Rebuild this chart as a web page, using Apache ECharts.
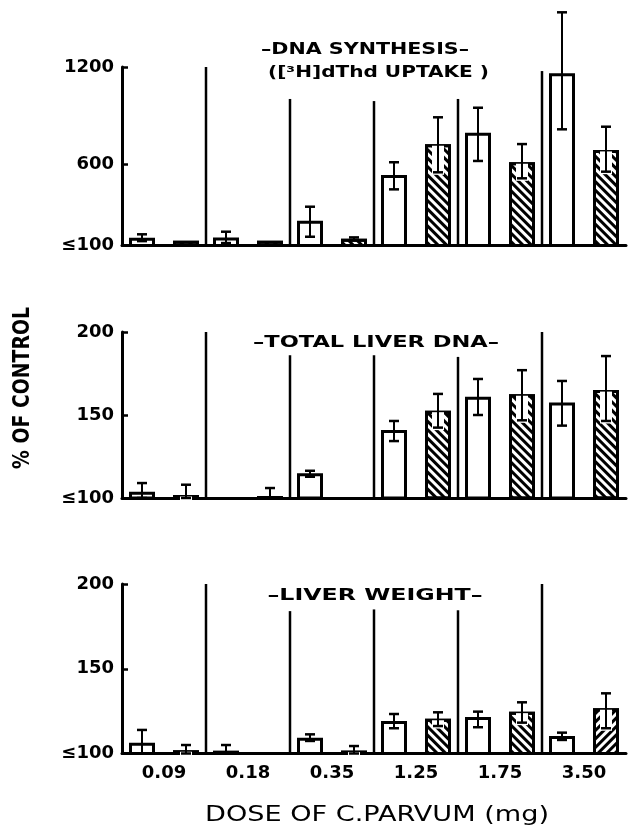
<!DOCTYPE html>
<html><head><meta charset="utf-8">
<script src="https://cdn.jsdelivr.net/npm/echarts@6/dist/echarts.min.js"></script>
<style>html,body{margin:0;padding:0;background:#fff}#c{width:631px;height:832px}</style>
</head><body><div id="c"></div>
<script>
// ---------- DATA ----------
const doses = ['0.09', '0.18', '0.35', '1.25', '1.75', '3.50'];

// DNA synthesis ([3H]dThd uptake), % of control
const synOpen      = [148, 150, 253, 534, 795, 1161];
const synOpenLow   = [127, 115, 154, 446, 621, 816];
const synOpenHigh  = [169, 185, 339, 613, 949, 1537];
const synHatch     = [130, 130, 142, 724, 613, 689];
const synHatchLow  = [null, null, 134, 551, 514, 555];
const synHatchHigh = [null, null, 150, 890, 725, 832];
const synSeparators = [1200, 1003, 990, 1003, 1175];
const synTicks = [100, 600, 1200];

// Total liver DNA, % of control
const dnaOpen      = [103.8, 100.8, 114.9, 141, 161, 157.6];
const dnaOpenLow   = [100, null, 112.8, 134.3, 150, 143.6];
const dnaOpenHigh  = [109, null, 116.4, 146.4, 171.7, 170.5];
const dnaHatch     = [101.8, 101.2, 100.8, 152.6, 162.5, 165];
const dnaHatchLow  = [100, 100, null, 142.4, 146.8, 146.4];
const dnaHatchHigh = [108, 106, null, 162.7, 177, 185.5];
const dnaSeparators = [200, 186, 186, 185, 200];
const dnaTicks = [100, 150, 200];

// Liver weight, % of control
const wOpen      = [106.4, 101.7, 109.3, 119.2, 121.5, 110.3];
const wOpenLow   = [100, 100, 107.4, 114.9, 115.5, 108];
const wOpenHigh  = [113.9, 105, 111.3, 123.3, 124.7, 112.3];
const wHatch     = [101.9, 100.8, 101.7, 120.5, 124.7, 126.7];
const wHatchLow  = [100, null, 100, 116.2, 118.2, 114.9];
const wHatchHigh = [105, null, 104.4, 124.3, 130.2, 135.5];
const wSeparators = [200, 184, 185, 184.5, 200];
const wTicks = [100, 150, 200];

// ---------- STYLE ----------
const FAMILY = '"DejaVu Sans", sans-serif';
const BAR_W = 26, BAR_GAP = 18, OFFSET = (BAR_W + BAR_GAP) / 2;
const hatchDecal = (rot) => ({symbol: 'rect', symbolSize: 1, dashArrayX: [1, 0], dashArrayY: [3, 3], rotation: rot, color: '#000'});
const HATCH_ROT = Math.PI / 4;

const panels = [
  {top: 67, height: 178.5, min: 100, max: 1200, interval: 100, ticks: synTicks,
   open: synOpen, openLow: synOpenLow, openHigh: synOpenHigh,
   hatch: synHatch, hatchLow: synHatchLow, hatchHigh: synHatchHigh, sep: synSeparators, showX: false, altHatch: []},
  {top: 332, height: 166, min: 100, max: 200, interval: 50, ticks: dnaTicks,
   open: dnaOpen, openLow: dnaOpenLow, openHigh: dnaOpenHigh,
   hatch: dnaHatch, hatchLow: dnaHatchLow, hatchHigh: dnaHatchHigh, sep: dnaSeparators, showX: false, altHatch: []},
  {top: 584, height: 169.5, min: 100, max: 200, interval: 50, ticks: wTicks,
   open: wOpen, openLow: wOpenLow, openHigh: wOpenHigh,
   hatch: wHatch, hatchLow: wHatchLow, hatchHigh: wHatchHigh, sep: wSeparators, showX: true, altHatch: [5]}
];

function errorRender(params, api) {
  const cat = api.value(0), side = api.value(1), lo = api.value(2), hi = api.value(3), val = api.value(4);
  const pHi = api.coord([cat, hi]);
  const cx = pHi[0] + side * OFFSET;
  const yHi = pHi[1];
  const yLo = api.coord([cat, lo])[1];
  const yTop = api.coord([cat, val])[1];
  const children = [];
  if (side > 0 && yLo > yTop + 2) {
    children.push({type: 'rect', shape: {x: cx - 6, y: yTop + 1.5, width: 12, height: Math.max(0, yLo - yTop + 1)},
      style: {fill: '#fff'}});
  }
  children.push({type: 'line', shape: {x1: cx, y1: yHi, x2: cx, y2: yLo}, style: {stroke: '#000', lineWidth: 2}});
  children.push({type: 'line', shape: {x1: cx - 5, y1: yHi, x2: cx + 5, y2: yHi}, style: {stroke: '#000', lineWidth: 2.5}});
  children.push({type: 'line', shape: {x1: cx - 5, y1: yLo, x2: cx + 5, y2: yLo}, style: {stroke: '#000', lineWidth: 2.5}});
  return {type: 'group', children};
}

function sepRenderFactory(ymin) {
  return function (params, api) {
    const i = api.value(0), top = api.value(1);
    const band = api.size([1, 0])[0];
    const p0 = api.coord([i, ymin]);
    const p1 = api.coord([i, top]);
    const x = p0[0] + band / 2;
    return {type: 'line', shape: {x1: x, y1: p0[1], x2: x, y2: p1[1]}, style: {stroke: '#000', lineWidth: 2.5}};
  };
}

const grid = [], xAxis = [], yAxis = [], series = [];
panels.forEach((p, g) => {
  grid.push({left: 122, right: 5, top: p.top, height: p.height});
  xAxis.push({
    type: 'category', gridIndex: g, data: doses, boundaryGap: true,
    axisLine: {lineStyle: {color: '#000', width: 3}},
    axisTick: {show: false},
    axisLabel: {show: p.showX, color: '#000', fontFamily: FAMILY, fontWeight: 'bold', fontSize: 18, margin: 11},
    splitLine: {show: false}
  });
  yAxis.push({
    type: 'value', gridIndex: g, min: p.min, max: p.max, interval: p.interval,
    axisLine: {show: true, lineStyle: {color: '#000', width: 3}},
    axisTick: {show: true, inside: true, length: 6, lineStyle: {color: '#000', width: 2.5}, customValues: p.ticks.slice(1)},
    axisLabel: {color: '#000', fontFamily: FAMILY, fontWeight: 'bold', fontSize: 18, margin: 8,
      customValues: p.ticks, formatter: v => (v === p.min ? '≤' + v : String(v))},
    splitLine: {show: false}
  });
  series.push({
    type: 'bar', xAxisIndex: g, yAxisIndex: g, data: p.open, barWidth: BAR_W,
    barGap: (BAR_GAP / BAR_W * 100) + '%', silent: true, z: 2,
    itemStyle: {color: '#fff', borderColor: '#000', borderWidth: 3}
  });
  series.push({
    type: 'bar', xAxisIndex: g, yAxisIndex: g, barWidth: BAR_W,
    barGap: (BAR_GAP / BAR_W * 100) + '%', silent: true, z: 2,
    data: p.hatch.map((v, i) => p.altHatch.includes(i)
      ? {value: v, itemStyle: {decal: hatchDecal(-HATCH_ROT)}} : v),
    itemStyle: {color: '#fff', borderColor: '#000', borderWidth: 3, decal: hatchDecal(HATCH_ROT)}
  });
  const err = [];
  p.open.forEach((v, i) => { if (p.openHigh[i] != null) err.push([i, -1, p.openLow[i], p.openHigh[i], v]); });
  p.hatch.forEach((v, i) => { if (p.hatchHigh[i] != null) err.push([i, 1, p.hatchLow[i], p.hatchHigh[i], v]); });
  series.push({type: 'custom', xAxisIndex: g, yAxisIndex: g, data: err, renderItem: errorRender,
    encode: {x: 0, y: 3}, clip: false, silent: true, z: 5});
  series.push({type: 'custom', xAxisIndex: g, yAxisIndex: g, data: p.sep.map((t, i) => [i, t]),
    renderItem: sepRenderFactory(p.min), encode: {x: 0, y: 1}, clip: false, silent: true, z: 1});
});

// ---------- TEXT ----------
const texts = [
  {text: '–DNA SYNTHESIS–', cx: 365, cy: 49.5, w: 208, size: 16, weight: 'bold', rot: 0},
  {text: '([³H]dThd UPTAKE )', cx: 378.5, cy: 73, w: 221, size: 16, weight: 'bold', rot: 0},
  {text: '–TOTAL LIVER DNA–', cx: 376, cy: 342.5, w: 246, size: 16, weight: 'bold', rot: 0},
  {text: '–LIVER WEIGHT–', cx: 375, cy: 596, w: 215, size: 16, weight: 'bold', rot: 0},
  {text: 'DOSE OF C.PARVUM (mg)', cx: 377, cy: 816, w: 344, size: 21, weight: 'normal', rot: 0},
  {text: '% OF CONTROL', cx: 23.5, cy: 388, w: 162, size: 23, weight: 'bold', rot: Math.PI / 2}
];
const mctx = document.createElement('canvas').getContext('2d');
function measure(t) {
  mctx.font = t.weight + ' ' + t.size + 'px "DejaVu Sans"';
  return mctx.measureText(t.text).width;
}
const graphic = texts.map(t => ({
  type: 'text', x: t.cx, y: t.cy, rotation: t.rot, scaleX: t.w / measure(t), z: 10, silent: true,
  style: {text: t.text, font: t.weight + ' ' + t.size + 'px "DejaVu Sans"', fill: '#000',
    align: 'center', verticalAlign: 'middle', textAlign: 'center', textVerticalAlign: 'middle'}
}));

const chart = echarts.init(document.getElementById('c'), null, {renderer: 'canvas'});
chart.setOption({
  backgroundColor: '#fff', animation: false,
  grid, xAxis, yAxis, series, graphic
});
</script></body></html>
